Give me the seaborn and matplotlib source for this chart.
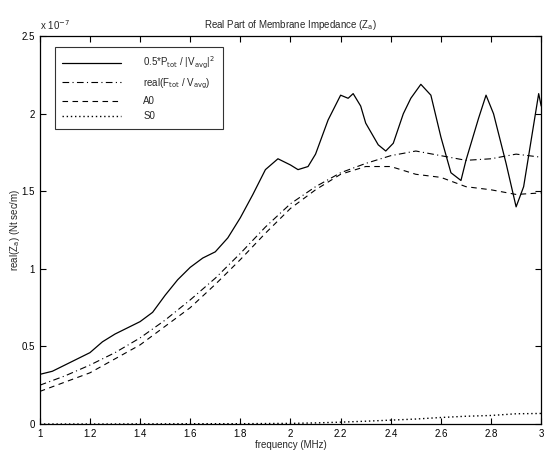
import numpy as np
import pandas as pd
import matplotlib
matplotlib.use("Agg")
import matplotlib.pyplot as plt
import seaborn as sns

# values, in units of 1e-7 Nt sec/m
freq_p = [1.00, 1.05, 1.10, 1.15, 1.20, 1.25, 1.30, 1.35, 1.40, 1.45, 1.50, 1.55,
          1.60, 1.65, 1.70, 1.75, 1.80, 1.85, 1.90, 1.95, 2.00, 2.03, 2.07, 2.10,
          2.15, 2.20, 2.23, 2.25, 2.28, 2.30, 2.35, 2.38, 2.41, 2.45, 2.48, 2.52,
          2.56, 2.60, 2.64, 2.68, 2.70, 2.75, 2.78, 2.81, 2.86, 2.90, 2.93, 2.96,
          2.99, 3.00]
power_z = [0.32, 0.34, 0.38, 0.42, 0.46, 0.53, 0.58, 0.62, 0.66, 0.72, 0.83, 0.93,
           1.01, 1.07, 1.11, 1.20, 1.33, 1.48, 1.64, 1.71, 1.67, 1.64, 1.66, 1.74,
           1.96, 2.12, 2.10, 2.13, 2.05, 1.94, 1.80, 1.76, 1.81, 2.00, 2.10, 2.19,
           2.12, 1.85, 1.62, 1.57, 1.70, 1.97, 2.12, 2.00, 1.68, 1.40, 1.53, 1.83,
           2.13, 2.05]

freq = [1.0, 1.1, 1.2, 1.3, 1.4, 1.5, 1.6, 1.7, 1.8, 1.9, 2.0,
        2.1, 2.2, 2.3, 2.4, 2.5, 2.6, 2.7, 2.8, 2.9, 3.0]
force_z = [0.25, 0.31, 0.38, 0.46, 0.555, 0.67, 0.80, 0.94, 1.10, 1.27, 1.42,
           1.53, 1.62, 1.68, 1.73, 1.76, 1.73, 1.70, 1.71, 1.74, 1.72]
a0_z = [0.21, 0.27, 0.33, 0.42, 0.51, 0.63, 0.75, 0.90, 1.06, 1.23, 1.39,
        1.51, 1.61, 1.66, 1.66, 1.61, 1.59, 1.53, 1.51, 1.48, 1.49]
s0_z = [0.0, 0.0, 0.0, 0.0, 0.001, 0.001, 0.002, 0.002, 0.002, 0.003, 0.004,
        0.007, 0.012, 0.018, 0.025, 0.032, 0.042, 0.050, 0.055, 0.066, 0.068]

x_ticks = [1, 1.2, 1.4, 1.6, 1.8, 2, 2.2, 2.4, 2.6, 2.8, 3]
x_labels = ['1', '1.2', '1.4', '1.6', '1.8', '2', '2.2', '2.4', '2.6', '2.8', '3']
y_ticks = [0, 0.5, 1, 1.5, 2, 2.5]
y_labels = ['0', '0.5', '1', '1.5', '2', '2.5']

sns.set_style("ticks")
plt.rcParams['font.family'] = ['Liberation Sans', 'DejaVu Sans']
plt.rcParams['font.size'] = 7
plt.rcParams['xtick.direction'] = 'in'
plt.rcParams['ytick.direction'] = 'in'
plt.rcParams['xtick.top'] = True
plt.rcParams['ytick.right'] = True

fig = plt.figure(figsize=(5.45, 4.53), dpi=100)
ax = fig.add_axes([0.073, 0.064, 0.92, 0.856])

sns.lineplot(x=freq_p, y=power_z, ax=ax, color='black', lw=0.9,
             label=r'0.5*P$_{\rm tot}$ / |V$_{\rm avg}$|$^2$')
sns.lineplot(x=freq, y=force_z, ax=ax, color='black', lw=0.8,
             linestyle=(0, (6, 3, 1, 3)), label=r'real(F$_{\rm tot}$ / V$_{\rm avg}$)')
sns.lineplot(x=freq, y=a0_z, ax=ax, color='black', lw=0.8,
             linestyle=(0, (5, 4)), label='A0')
sns.lineplot(x=freq, y=s0_z, ax=ax, color='black', lw=1.0,
             linestyle=(0, (1, 2)), label='S0')

ax.set_xlim(1, 3)
ax.set_ylim(0, 2.5)
ax.set_xticks(x_ticks)
ax.set_xticklabels(x_labels)
ax.set_yticks(y_ticks)
ax.set_yticklabels(y_labels)
ax.tick_params(length=4, width=0.8, labelsize=7, colors='black')
for s in ax.spines.values():
    s.set_visible(True)
    s.set_linewidth(0.9)
    s.set_color('black')

# exponent shown above the y axis, as in the reference
ax.text(0.0, 1.012, r'x 10$^{-7}$', transform=ax.transAxes, fontsize=7,
        ha='left', va='bottom')

ax.set_title(r'Real Part of Membrane Impedance (Z$_{\rm a}$)', fontsize=7)
ax.set_xlabel('frequency (MHz)', fontsize=7, labelpad=1)
ax.set_ylabel(r'real(Z$_{\rm a}$) (Nt sec/m)', fontsize=7)
ax.yaxis.set_label_coords(-0.036, 0.5)

leg = ax.legend(loc='upper left', fontsize=7, handlelength=6, frameon=True,
                fancybox=False, edgecolor='black', borderpad=0.8,
                labelspacing=0.55, handletextpad=2.3, bbox_to_anchor=(0.02, 0.985))
leg.get_frame().set_linewidth(0.8)

plt.savefig("out.png", dpi=100)
